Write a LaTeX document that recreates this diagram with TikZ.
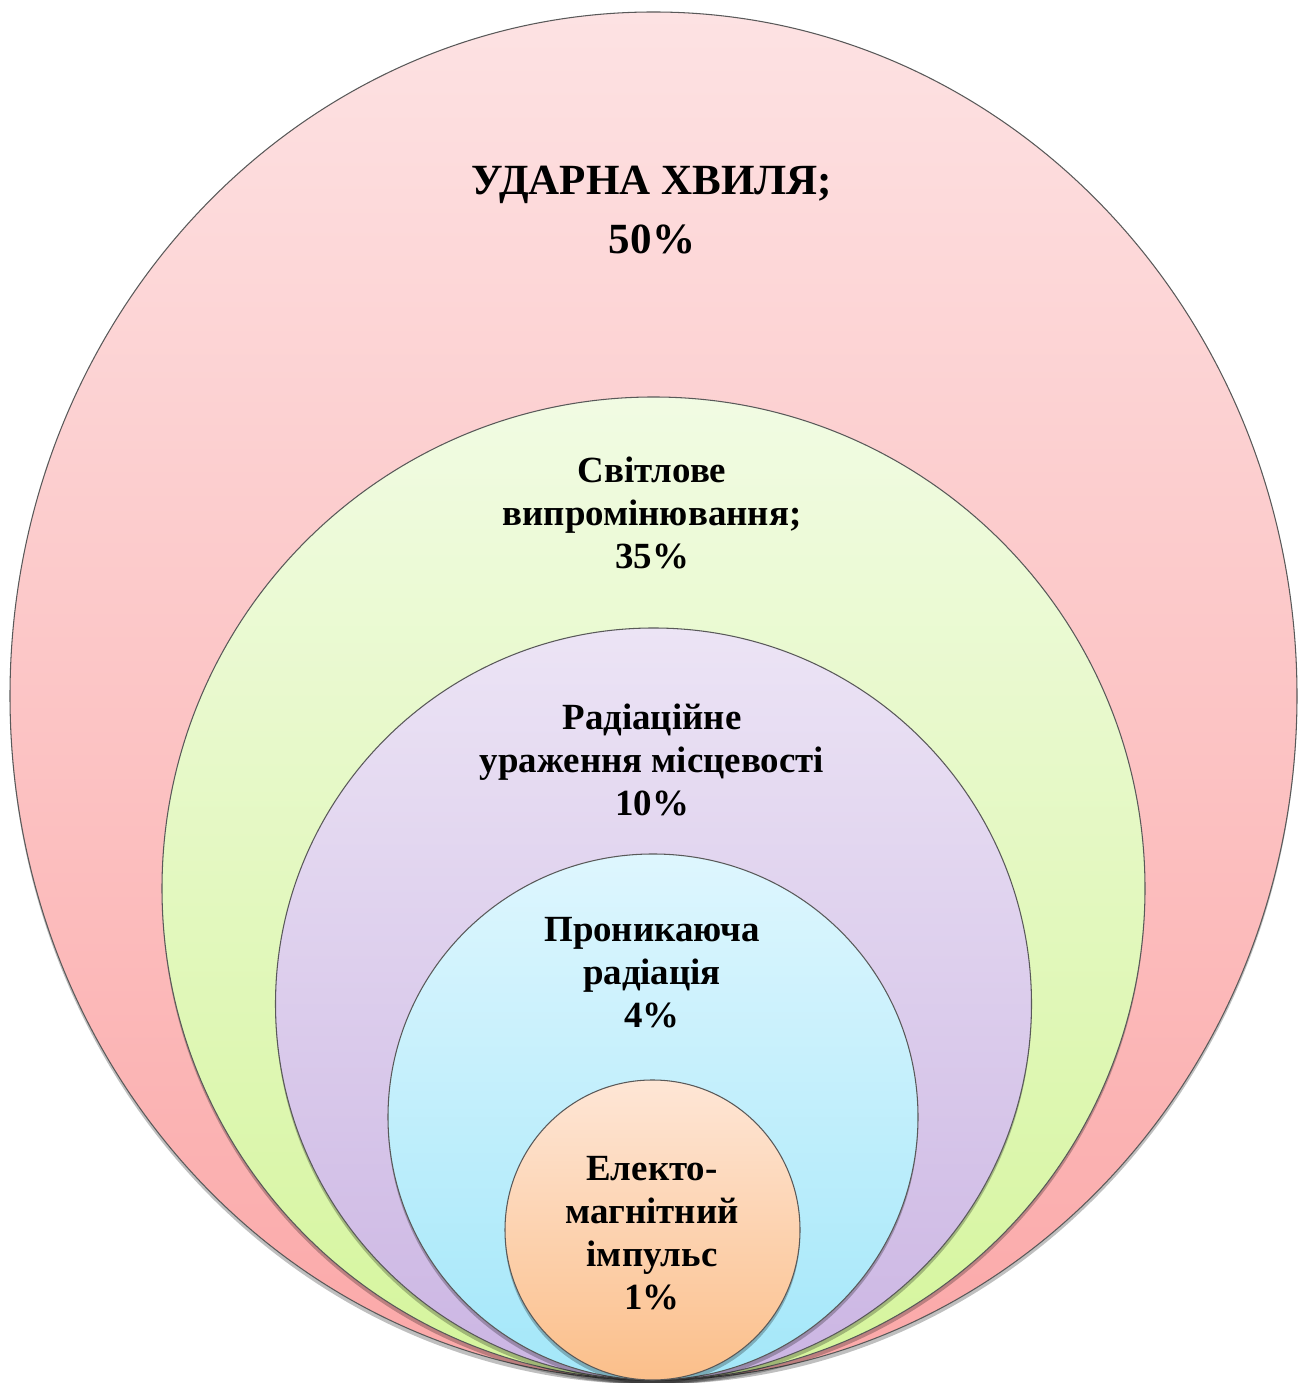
\documentclass[tikz,border=0pt]{standalone}
\usepackage{fontspec}
\setmainfont{Liberation Serif}
\usepackage{xcolor}
\usepackage{tikz}
\usetikzlibrary{positioning,shadows}
\definecolor{pinkTop}{HTML}{FDE2E3}
\definecolor{pinkBot}{HTML}{FBA8A8}
\definecolor{greenTop}{HTML}{F1FBE3}
\definecolor{greenBot}{HTML}{D5F59C}
\definecolor{lilacTop}{HTML}{ECE4F5}
\definecolor{lilacBot}{HTML}{CBB5E3}
\definecolor{cyanTop}{HTML}{DEF6FE}
\definecolor{cyanBot}{HTML}{A3E7F9}
\definecolor{peachTop}{HTML}{FEE6D6}
\definecolor{peachBot}{HTML}{FBBF8A}
\tikzset{
  ring/.style={draw=black!65,line width=0.6pt,
    drop shadow={shadow xshift=0pt,shadow yshift=-2.5pt,opacity=.25,fill=black}},
  lbl/.style={align=center,font=\bfseries\fontsize{21}{24.5}\selectfont,inner sep=0pt},
  title/.style={align=center,font=\bfseries\fontsize{24.5}{34}\selectfont,inner sep=0pt}
}

\begin{document}
\begin{tikzpicture}[x=0.02cm,y=0.02cm]
\useasboundingbox (0,0) rectangle (1301,1383);
\path[ring,top color=pinkTop,bottom color=pinkBot] (653.5,687) ellipse [x radius=643.5,y radius=684];
\path[ring,top color=greenTop,bottom color=greenBot] (653.5,494.5) ellipse [x radius=491.5,y radius=491.5];
\path[ring,top color=lilacTop,bottom color=lilacBot] (653.5,379) ellipse [x radius=378,y radius=376];
\path[ring,top color=cyanTop,bottom color=cyanBot] (653,266) ellipse [x radius=265,y radius=263];
\path[ring,top color=peachTop,bottom color=peachBot] (652.5,153) ellipse [x radius=147.5,y radius=150];

\node[title] (wave) at (652,1173) {УДАРНА ХВИЛЯ;\\50\%};
\node[lbl] (light) at (652,870) {Світлове\\випромінювання;\\35\%};
\node[lbl] (fallout) at (652,623) {Радіаційне\\ураження місцевості\\10\%};
\node[lbl] (rad) at (652,410) {Проникаюча\\радіація\\4\%};
\node[lbl] (emp) at (652,150) {Електо-\\магнітний\\імпульс\\1\%};
\end{tikzpicture}
\end{document}
